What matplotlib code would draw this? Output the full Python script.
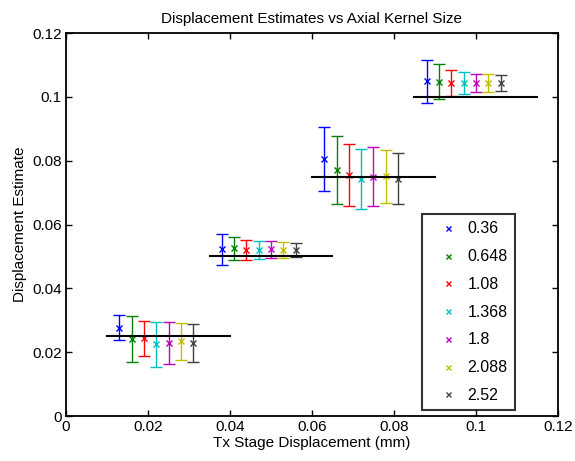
import numpy as np
import matplotlib
matplotlib.use("Agg")
import matplotlib.pyplot as plt

plt.rcParams['font.family'] = ['Liberation Sans', 'DejaVu Sans']

# True stage displacements (mm)
stage = [0.025, 0.05, 0.075, 0.1]

# Axial kernel sizes (legend entries)
kernels = ['0.36', '0.648', '1.08', '1.368', '1.8', '2.088', '2.52']

# Mean displacement estimates per kernel, one value per stage position
mean_036 = [0.0277, 0.0522, 0.0804, 0.1049]
mean_0648 = [0.0241, 0.0525, 0.0771, 0.1047]
mean_108 = [0.0244, 0.0520, 0.0755, 0.1043]
mean_1368 = [0.0225, 0.0520, 0.0743, 0.1043]
mean_18 = [0.0229, 0.0522, 0.0750, 0.1044]
mean_2088 = [0.0234, 0.0521, 0.0751, 0.1044]
mean_252 = [0.0229, 0.0519, 0.0744, 0.1044]

# Standard deviations (error bar half-lengths)
std_036 = [0.0040, 0.0049, 0.0100, 0.0067]
std_0648 = [0.0072, 0.0037, 0.0107, 0.0055]
std_108 = [0.0055, 0.0032, 0.0098, 0.0041]
std_1368 = [0.0071, 0.0028, 0.0095, 0.0035]
std_18 = [0.0065, 0.0026, 0.0092, 0.0029]
std_2088 = [0.0057, 0.0025, 0.0083, 0.0028]
std_252 = [0.0059, 0.0022, 0.0080, 0.0025]

means = [mean_036, mean_0648, mean_108, mean_1368, mean_18, mean_2088, mean_252]
stds = [std_036, std_0648, std_108, std_1368, std_18, std_2088, std_252]

colors = [(0, 0, 1), (0, 0.5, 0), (1, 0, 0), (0, 0.75, 0.75),
          (0.75, 0, 0.75), (0.75, 0.75, 0), (0.25, 0.25, 0.25)]

fig = plt.figure(figsize=(5.75, 4.61), dpi=100)
ax = fig.add_axes([0.1148, 0.0976, 0.8556, 0.8308])

offset_step = 0.003
handles = []
for i, (m, s, c) in enumerate(zip(means, stds, colors)):
    xs = np.array(stage) + (i - 4) * offset_step
    ax.errorbar(xs, m, yerr=s, fmt='none', ecolor=c, elinewidth=1.0,
                capsize=4, capthick=1.0, zorder=2)
    h, = ax.plot(xs, m, 'x', color=c, markersize=4, markeredgewidth=1.0,
                 zorder=3, label=kernels[i])
    handles.append(h)

# Reference lines at the true displacement
for s in stage:
    ax.plot([s - 0.015, s + 0.015], [s, s], color='black', linewidth=1.5, zorder=4)

ax.set_xlim(0, 0.12)
ax.set_ylim(0, 0.12)
ticks = [0, 0.02, 0.04, 0.06, 0.08, 0.1, 0.12]
labels = ['0', '0.02', '0.04', '0.06', '0.08', '0.1', '0.12']
ax.set_xticks(ticks)
ax.set_xticklabels(labels)
ax.set_yticks(ticks)
ax.set_yticklabels(labels)
ax.tick_params(direction='in', top=True, right=True, length=4, width=1,
               labelsize=11, pad=3)
for sp in ax.spines.values():
    sp.set_linewidth(1.3)

ax.set_title('Displacement Estimates vs Axial Kernel Size', fontsize=11, pad=7)
ax.set_xlabel('Tx Stage Displacement (mm)', fontsize=11, labelpad=1)
ax.set_ylabel('Displacement Estimate', fontsize=11, labelpad=4)

leg = ax.legend(handles=handles, loc='upper left',
                bbox_to_anchor=(0.7236, 0.527), fontsize=11.5,
                frameon=True, fancybox=False, edgecolor='black',
                handlelength=2.3, handletextpad=0.1, labelspacing=0.8,
                borderpad=0.45, borderaxespad=0, markerscale=0.9)
leg.get_frame().set_linewidth(1.5)

fig.savefig('out.png', dpi=100)
